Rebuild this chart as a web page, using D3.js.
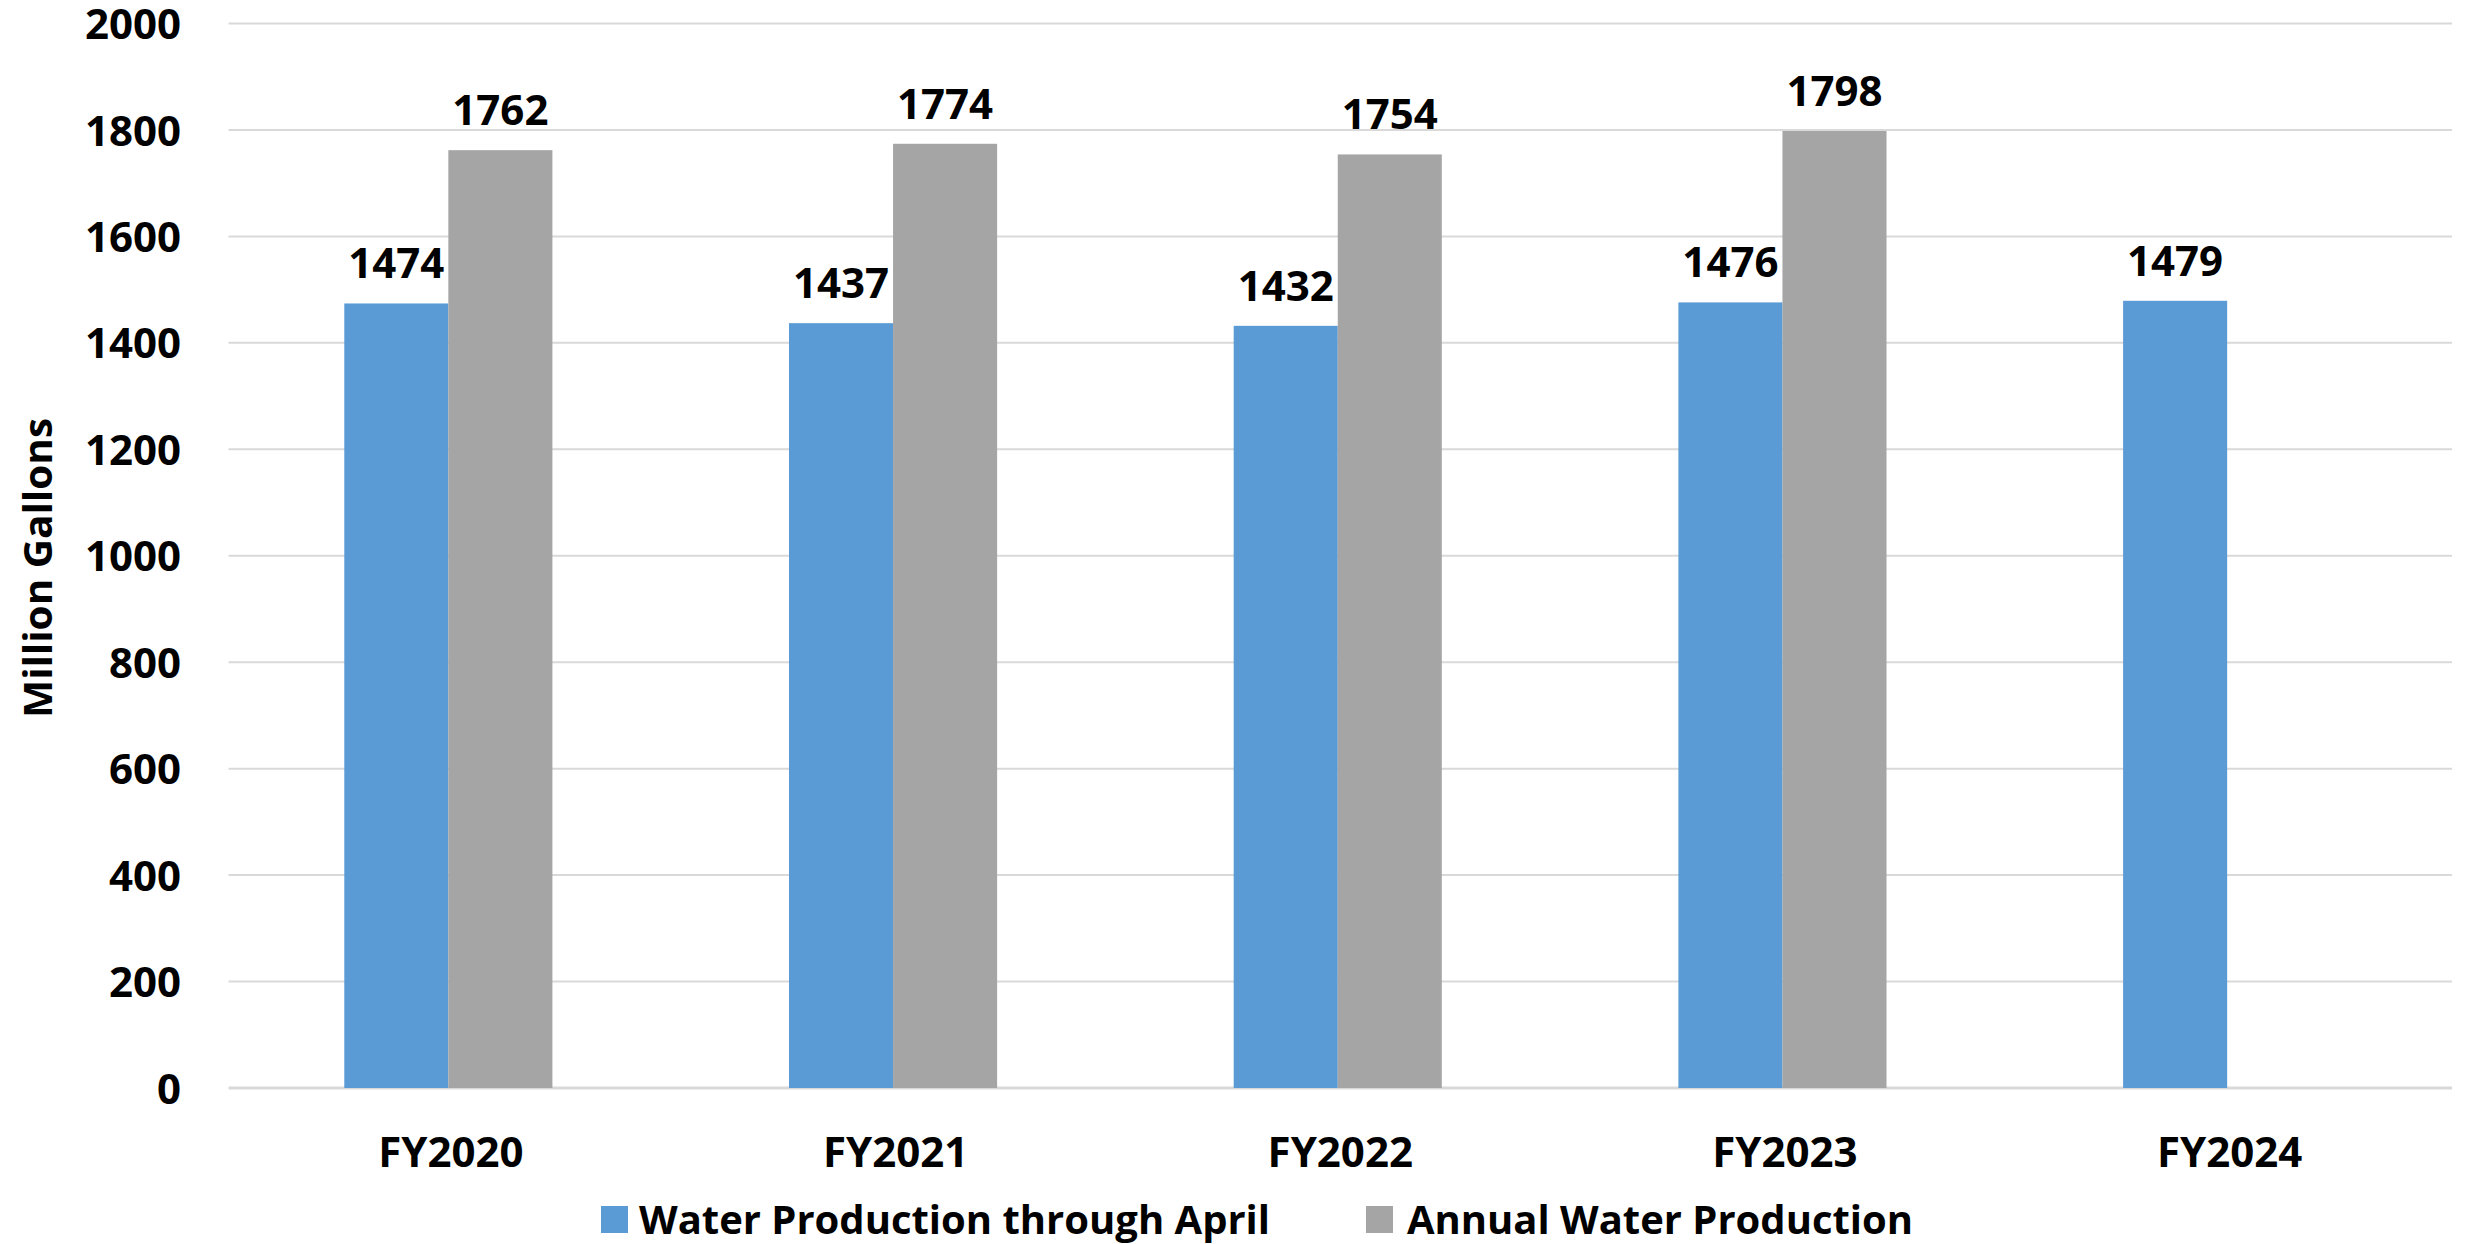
<!DOCTYPE html>
<html>
<head>
<meta charset="utf-8">
<script src="https://cdn.jsdelivr.net/npm/d3@7"></script>
<style>
  html, body { margin: 0; padding: 0; background: #fff; }
  svg { display: block; }
  text { font-family: "Open Sans", "Noto Sans", sans-serif; font-weight: 700; fill: #000; }
</style>
</head>
<body>
<svg id="chart" width="2473" height="1244"></svg>
<script>
// Fiscal years and the two water production series (million gallons)
const categories = ["FY2020", "FY2021", "FY2022", "FY2023", "FY2024"];
const throughApril = [1474, 1437, 1432, 1476, 1479];
const annual = [1762, 1774, 1754, 1798, null];
const seriesNames = ["Water Production through April", "Annual Water Production"];
const seriesColors = ["#5B9BD5", "#A5A5A5"];
const yTicks = [0, 200, 400, 600, 800, 1000, 1200, 1400, 1600, 1800, 2000];
const yTitle = "Million Gallons";

const W = 2473, H = 1244;
const plot = { left: 228.5, right: 2452, top: 23.5, bottom: 1088 };

const svg = d3.select("#chart");

const x = d3.scaleBand().domain(categories).range([plot.left, plot.right]).padding(0);
const y = d3.scaleLinear().domain([0, 2000]).range([plot.bottom, plot.top]);

const groupFrac = 0.468;
const inner = d3.scaleBand()
  .domain(d3.range(seriesNames.length))
  .range([0, x.bandwidth() * groupFrac])
  .padding(0);
const groupOffset = (x.bandwidth() - x.bandwidth() * groupFrac) / 2 - 2.5;

// Horizontal gridlines
svg.append("g")
  .selectAll("line")
  .data(yTicks)
  .join("line")
  .attr("x1", plot.left)
  .attr("x2", plot.right)
  .attr("y1", d => y(d))
  .attr("y2", d => y(d))
  .attr("stroke", "#D9D9D9")
  .attr("stroke-width", d => d === 0 ? 3 : 2);

// Y axis tick labels
const yAxis = d3.axisLeft(y).tickValues(yTicks).tickFormat(d3.format("d")).tickSize(0).tickPadding(0);
const yG = svg.append("g").attr("transform", `translate(181,0)`).call(yAxis);
yG.select(".domain").remove();
yG.selectAll("text")
  .attr("font-size", 42)
  .attr("font-family", "'Open Sans', sans-serif")
  .attr("font-weight", 700)
  .attr("fill", "#000")
  .attr("dy", "0.36em");

// Bars
const rows = categories.map((c, i) => ({ cat: c, vals: [throughApril[i], annual[i]] }));
const groups = svg.append("g").selectAll("g")
  .data(rows)
  .join("g")
  .attr("transform", d => `translate(${x(d.cat) + groupOffset},0)`);

groups.selectAll("rect")
  .data(d => d.vals.map((v, k) => ({ v, k })).filter(e => e.v != null))
  .join("rect")
  .attr("x", e => inner(e.k))
  .attr("width", inner.bandwidth())
  .attr("y", e => y(e.v))
  .attr("height", e => y(0) - y(e.v))
  .attr("fill", e => seriesColors[e.k]);

// Value labels
groups.selectAll("text.val")
  .data(d => d.vals.map((v, k) => ({ v, k })).filter(e => e.v != null))
  .join("text")
  .attr("class", "val")
  .attr("x", e => inner(e.k) + inner.bandwidth() / 2)
  .attr("y", e => y(e.v) - 25)
  .attr("text-anchor", "middle")
  .attr("font-size", 42)
  .text(e => e.v);

// X axis category labels
const xAxis = d3.axisBottom(x).tickSize(0).tickPadding(0);
const xG = svg.append("g").attr("transform", `translate(0,1167)`).call(xAxis);
xG.select(".domain").remove();
xG.selectAll("text")
  .attr("font-size", 42)
  .attr("font-family", "'Open Sans', sans-serif")
  .attr("font-weight", 700)
  .attr("fill", "#000")
  .attr("dy", 0)
  .attr("y", 0);

// Y axis title
svg.append("text")
  .attr("transform", `translate(52,568) rotate(-90)`)
  .attr("text-anchor", "middle")
  .attr("font-size", 40)
  .attr("textLength", 300)
  .attr("lengthAdjust", "spacingAndGlyphs")
  .text(yTitle);

// Legend
const legendItems = [
  { sx: 601, tx: 639, len: 631 },
  { sx: 1366, tx: 1407, len: 506 }
];
const lg = svg.append("g").selectAll("g")
  .data(seriesNames.map((n, k) => ({ n, k, ...legendItems[k] })))
  .join("g");
lg.append("rect")
  .attr("x", d => d.sx).attr("y", 1206)
  .attr("width", 27).attr("height", 27)
  .attr("fill", d => seriesColors[d.k]);
lg.append("text")
  .attr("x", d => d.tx).attr("y", 1234)
  .attr("font-size", 40)
  .attr("textLength", d => d.len)
  .attr("lengthAdjust", "spacingAndGlyphs")
  .text(d => d.n);
</script>
</body>
</html>
